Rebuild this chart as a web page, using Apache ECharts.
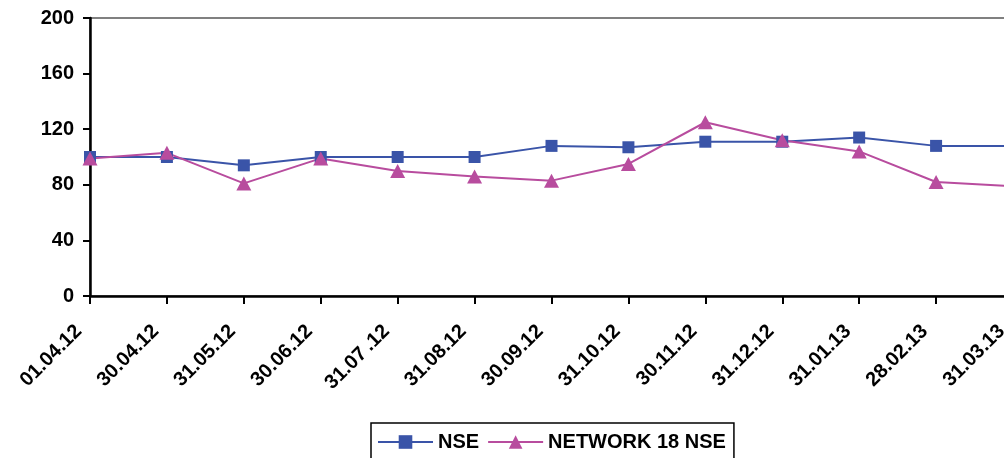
<!DOCTYPE html>
<html>
<head>
<meta charset="utf-8">
<script src="https://cdn.jsdelivr.net/npm/echarts@6/dist/echarts.min.js"></script>
<style>
  html, body { margin: 0; padding: 0; background: #fff; }
  #chart { width: 1004px; height: 458px; }
</style>
</head>
<body>
<div id="chart"></div>
<script>
// Month-end dates for the period
const dates = ['01.04.12', '30.04.12', '31.05.12', '30.06.12', '31.07\u2009.12', '31.08.12',
  '30.09.12', '31.10.12', '30.11.12', '31.12.12', '31.01.13', '28.02.13', '31.03.13'];

// Indexed values (base 100)
const nse = [100, 100, 94, 100, 100, 100, 108, 107, 111, 111, 114, 108, 108];
const network18 = [99, 103, 81, 99, 90, 86, 83, 95, 125, 112, 104, 82, 79];

const yTicks = { min: 0, max: 200, interval: 40 };

const FONT = '"Liberation Sans", Arial, sans-serif';
const BLUE = '#3A54A8';
const MAGENTA = '#B84C9E';

const chart = echarts.init(document.getElementById('chart'));
chart.setOption({
  animation: false,
  backgroundColor: '#fff',
  grid: {
    left: 90, top: 18, width: 923, height: 278,
    containLabel: false,
    outerBoundsMode: 'none',
    show: true, borderColor: '#808080', borderWidth: 2, backgroundColor: 'transparent'
  },
  legend: {
    left: 371, top: 423,
    padding: [9, 8, 9, 6],
    itemGap: 8,
    itemWidth: 55, itemHeight: 17,
    borderColor: '#000', borderWidth: 1.5,
    textStyle: { fontFamily: FONT, fontWeight: 'bold', fontSize: 20, color: '#000' },
    data: ['NSE', 'NETWORK 18 NSE']
  },
  xAxis: {
    type: 'category',
    boundaryGap: false,
    data: dates,
    axisLine: { lineStyle: { color: '#000', width: 2.5 } },
    axisTick: { show: true, length: 8, lineStyle: { color: '#000', width: 2 } },
    axisLabel: {
      rotate: 45, margin: 21, interval: 0, padding: [0, 16, 0, 0],
      fontFamily: FONT, fontWeight: 'bold', fontSize: 20, color: '#000'
    },
    splitLine: { show: false }
  },
  yAxis: {
    type: 'value',
    min: yTicks.min, max: yTicks.max, interval: yTicks.interval,
    axisLine: { show: true, lineStyle: { color: '#000', width: 2.5 } },
    axisTick: { show: true, length: 7, lineStyle: { color: '#000', width: 2 } },
    axisLabel: { margin: 16, fontFamily: FONT, fontWeight: 'bold', fontSize: 20, color: '#000' },
    splitLine: { show: false }
  },
  series: [
    {
      name: 'NSE', type: 'line', data: nse,
      symbol: 'rect', symbolSize: 12,
      lineStyle: { color: BLUE, width: 2 },
      itemStyle: { color: BLUE }
    },
    {
      name: 'NETWORK 18 NSE', type: 'line', data: network18,
      symbol: 'triangle', symbolSize: [15, 14],
      lineStyle: { color: MAGENTA, width: 2 },
      itemStyle: { color: MAGENTA }
    }
  ]
});
</script>
</body>
</html>
